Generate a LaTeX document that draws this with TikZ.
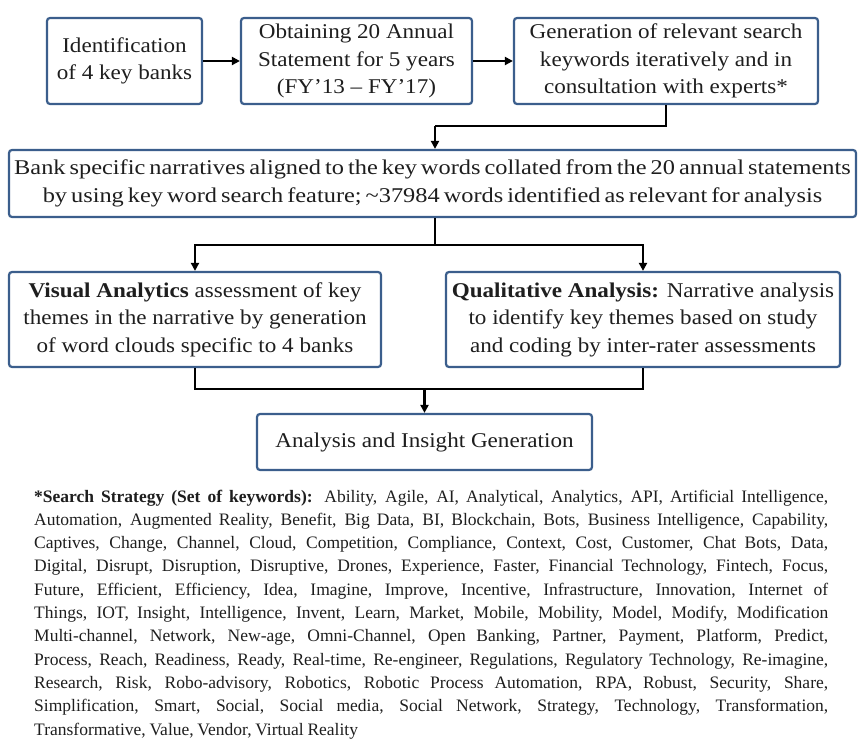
\documentclass[tikz,border=0pt]{standalone}
\usepackage{fontspec}
\setmainfont{Liberation Serif}
\newfontfamily\boxfont[FakeStretch=1.1]{Liberation Serif}
\newfontfamily\wideboxfont[FakeStretch=1.16]{Liberation Serif}
\newfontfamily\fnfont{Liberation Serif}
\usetikzlibrary{arrows.meta}
\definecolor{boxblue}{HTML}{3B5E8C}
\definecolor{txt}{HTML}{1E1E1E}
\begin{document}
\begin{tikzpicture}[x=1pt,y=-1pt,
  stepbox/.style={draw=boxblue, line width=2.2pt, rounded corners=3pt, fill=white,
    text=txt, align=center, inner sep=0pt,
    font=\boxfont\fontsize{21}{27.5}\selectfont},
  conn/.style={draw=black, line width=2.6pt},
  arr/.style={conn, -{Triangle[length=8pt,width=8pt]}}]
\useasboundingbox (0,0) rectangle (859,743);

\node[stepbox, minimum width=155pt, minimum height=86pt] (b1) at (124.5,61)
  {Identification\\of 4 key banks};
\node[stepbox, minimum width=231pt, minimum height=86pt] (b2) at (356.5,61)
  {Obtaining 20 Annual\\Statement for 5 years\\(FY’13 – FY’17)};
\node[stepbox, minimum width=304pt, minimum height=86pt] (b3) at (666,61)
  {Generation of relevant search\\keywords iteratively and in\\consultation with experts*};
\node[stepbox, minimum width=847pt, minimum height=67pt,
  font=\wideboxfont\fontsize{21}{27.5}\selectfont] (b4) at (432.5,183.5)
  {\spaceskip=0.19em plus 0.05em minus 0.05em Bank specific narratives aligned to the key words collated from the 20 annual statements\\
   \spaceskip=0.19em plus 0.05em minus 0.05em by using key word search feature; \textasciitilde37984 words identified as relevant for analysis};
\node[stepbox, minimum width=372pt, minimum height=95pt] (b5) at (195,319.5)
  {\textbf{Visual Analytics} assessment of key\\themes in the narrative by generation\\of word clouds specific to 4 banks};
\node[stepbox, minimum width=394pt, minimum height=95pt] (b6) at (643,319.5)
  {\textbf{Qualitative Analysis:} Narrative analysis\\to identify key themes based on study\\and coding by inter-rater assessments};
\node[stepbox, minimum width=335pt, minimum height=56pt] (b7) at (424.5,442)
  {Analysis and Insight Generation};

\coordinate (j1) at (435,126);
\coordinate (j2) at (435,245);
\coordinate (j3) at (424.5,389);

\draw[arr] (b1) -- (b2);
\draw[arr] (b2) -- (b3);
\draw[conn] (b3.south) |- (j1);
\draw[arr] (j1) -- (j1 |- b4.north);
\draw[conn] (j2 |- b4.south) -- (j2);
\draw[arr] (j2) -| (b5.north);
\draw[arr] (j2) -| (b6.north);
\draw[conn] (b5.south) |- (j3);
\draw[conn] (b6.south) |- (j3);
\draw[arr] (j3) -- (b7.north);

\node[anchor=base west, inner sep=0pt, text=txt] (fn) at (34,502)
{\parbox[t]{794pt}{\fnfont\fontsize{17.5}{23.3}\selectfont
\spaceskip=0.21em plus 0.6em minus 0.03em
\textbf{*Search Strategy (Set of keywords):} Ability, Agile, AI, Analytical, Analytics, API, Artificial Intelligence,\linebreak
Automation, Augmented Reality, Benefit, Big Data, BI, Blockchain, Bots, Business Intelligence, Capability,\linebreak
Captives, Change, Channel, Cloud, Competition, Compliance, Context, Cost, Customer, Chat Bots, Data,\linebreak
Digital, Disrupt, Disruption, Disruptive, Drones, Experience, Faster, Financial Technology, Fintech, Focus,\linebreak
Future, Efficient, Efficiency, Idea, Imagine, Improve, Incentive, Infrastructure, Innovation, Internet of\linebreak
Things, IOT, Insight, Intelligence, Invent, Learn, Market, Mobile, Mobility, Model, Modify, Modification\linebreak
Multi-channel, Network, New-age, Omni-Channel, Open Banking, Partner, Payment, Platform, Predict,\linebreak
Process, Reach, Readiness, Ready, Real-time, Re-engineer, Regulations, Regulatory Technology, Re-imagine,\linebreak
Research, Risk, Robo-advisory, Robotics, Robotic Process Automation, RPA, Robust, Security, Share,\linebreak
Simplification, Smart, Social, Social media, Social Network, Strategy, Technology, Transformation,\linebreak
Transformative, Value, Vendor, Virtual Reality}};
\end{tikzpicture}
\end{document}
